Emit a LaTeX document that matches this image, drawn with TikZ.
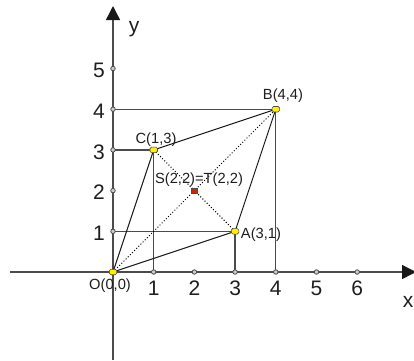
\documentclass[tikz,border=0pt]{standalone}
\usepackage{fontspec}
\setmainfont{Liberation Sans}
\usetikzlibrary{arrows.meta}
\definecolor{axisgray}{RGB}{75,75,75}
\definecolor{txt}{RGB}{30,30,30}
\definecolor{ptyellow}{RGB}{255,240,0}
\definecolor{ptred}{RGB}{200,40,10}
\begin{document}
\begin{tikzpicture}[x=1pt,y=-1pt,
  axis/.style={draw=axisgray,line width=1.4pt,-{Triangle[length=14pt,width=14pt,color=black!90]}},
  proj/.style={draw=axisgray,line width=1.3pt},
  side/.style={draw=black!90,line width=1pt},
  diag/.style={draw=black,line width=1pt,dotted},
  tickmark/.style={circle,draw=axisgray,fill=gray!40,line width=0.8pt,inner sep=0pt,minimum size=4.5pt},
  pt/.style={rectangle,rounded corners=1.5pt,draw=black!70,fill=ptyellow,line width=0.6pt,inner sep=0pt,minimum width=7.5pt,minimum height=5.5pt},
  mid/.style={rectangle,draw=black!70,fill=ptred,line width=0.5pt,inner sep=0pt,minimum size=5.5pt},
  big/.style={font=\fontsize{21}{21}\selectfont,text=txt,inner sep=0pt},
  small/.style={font=\fontsize{14.7}{15}\selectfont,text=txt,inner sep=0pt,anchor=base}]
\useasboundingbox (0,0) rectangle (414,360);
\def\ux{40.7}
% axes
\coordinate (xs) at (10,272);
\coordinate (xe) at (416,272);
\coordinate (ys) at (113,360);
\coordinate (ye) at (113,6);
\draw[axis] (xs) -- (xe);
\draw[axis] (ys) -- (ye);
% tick marks
\foreach \i in {1,...,6} \coordinate (tx\i) at ({113+\i*\ux},272);
\foreach \j in {1,...,5} \coordinate (ty\j) at (113,{272-\j*\ux});
% points
\coordinate (pO) at (113,272);
\coordinate (pA) at ({113+3*\ux},{272-1*\ux});
\coordinate (pB) at ({113+4*\ux},{272-4*\ux});
\coordinate (pC) at ({113+1*\ux},{272-3*\ux});
\coordinate (pM) at ({113+2*\ux},{272-2*\ux});
% projection lines
\draw[proj] (ty4) -- (pB) -- (tx4);
\draw[proj] (ty3) -- (pC) -- (tx1);
\draw[proj] (ty1) -- (pA) -- (tx3);
% tick circles
\foreach \i in {1,...,6} \node[tickmark] (kx\i) at (tx\i) {};
\foreach \j in {1,...,5} \node[tickmark] (ky\j) at (ty\j) {};
% parallelogram
\draw[side] (pO) -- (pA) -- (pB) -- (pC) -- cycle;
% diagonals
\draw[diag] (pO) -- (pB);
\draw[diag] (pC) -- (pA);
% point markers
\node[pt] (O) at (pO) {};
\node[pt] (A) at (pA) {};
\node[pt] (B) at (pB) {};
\node[pt] (C) at (pC) {};
\node[mid] (M) at (pM) {};
% axis numbers
\foreach \i in {1,...,6} \node[big,anchor=base] (nx\i) at ({113+\i*\ux},295) {\i};
\foreach \j in {1,...,5} \node[big,anchor=east] (ny\j) at (105,{272-\j*\ux+2}) {\j};
\node[big,anchor=base] (xl) at (408,307) {x};
\node[big,anchor=base] (yl) at (134,32) {y};
% point labels
\node[small] (lB) at (283,99.5) {B(4,4)};
\node[small] (lC) at (156,143.5) {C(1,3)};
\node[small] (lS) at (199,183.5) {S(2,2)=T(2,2)};
\node[small] (lA) at (261,238.5) {A(3,1)};
\node[small] (lO) at (110,289.5) {O(0,0)};
\end{tikzpicture}
\end{document}
